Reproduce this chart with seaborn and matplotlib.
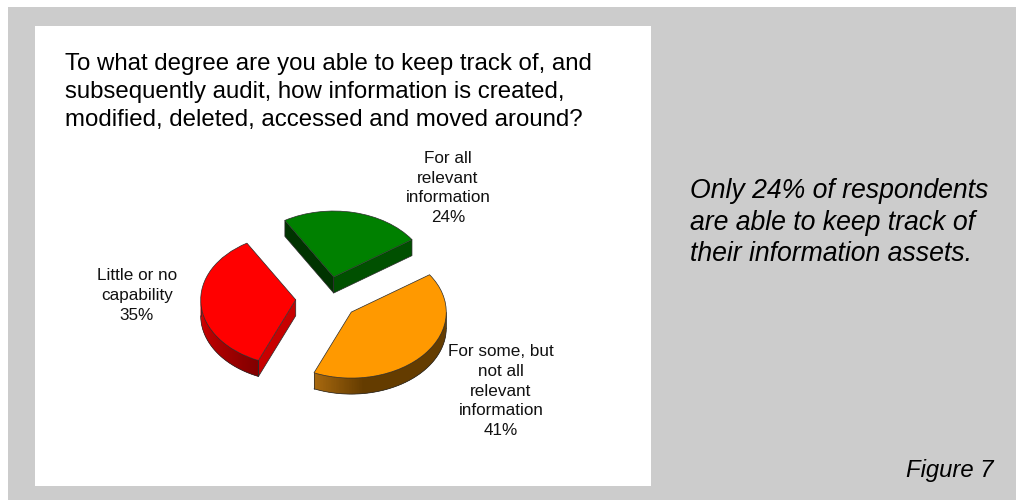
import numpy as np
import matplotlib
matplotlib.use("Agg")
import matplotlib.pyplot as plt
from matplotlib.patches import Rectangle
from matplotlib.colors import to_rgb
import seaborn as sns

# Survey responses, in drawing order counter-clockwise from the start angle
answers = ["For all\nrelevant\ninformation", "Little or no\ncapability",
           "For some, but\nnot all\nrelevant\ninformation"]
shares = [24, 35, 41]
title_text = ("To what degree are you able to keep track of, and\n"
              "subsequently audit, how information is created,\n"
              "modified, deleted, accessed and moved around?")
comment_text = ("Only 24% of respondents\nare able to keep track of\n"
                "their information assets.")
figure_label = "Figure 7"

sns.set_theme(style="white")
plt.rcParams["font.family"] = ["Liberation Sans", "DejaVu Sans"]

W, H = 1016, 500
top_colors = sns.color_palette(["#008000", "#ff0000", "#ff9900"])
cut_near = ["#005000", "#c80000", "#a56a10"]   # face cut along the first radius
cut_far = ["#003300", "#c80000", "#a56a10"]    # face cut along the second radius
rim_from = ["#004d00", "#dc0000", "#a8690f"]
rim_to = ["#004d00", "#7c0000", "#643c00"]
rim_span = [60, 70, 30]                        # degrees over which the rim shades
edge = "#2a2a2a"

fig = plt.figure(figsize=(W / 100, H / 100), dpi=100, facecolor="white")
bg = fig.add_axes([0, 0, 1, 1])
bg.set_xlim(0, W)
bg.set_ylim(H, 0)
bg.axis("off")
bg.add_patch(Rectangle((8, 7), W - 8, H - 7, fc="#cccccc", ec="none"))
bg.add_patch(Rectangle((35, 26), 616, 460, fc="white", ec="none"))

bg.text(65, 92, title_text, fontsize=17.3, color="black", va="center",
        ha="left", linespacing=1.33)
bg.text(690, 222.5, comment_text, fontsize=19.2, style="italic", color="black",
        va="center", ha="left", linespacing=1.27)
bg.text(993, 471, figure_label, fontsize=17.2, style="italic", color="black",
        va="center", ha="right")

label_pos = [(448, 188), (137, 295.5), (501, 391)]
for answer, share, (px, py) in zip(answers, shares, label_pos):
    bg.text(px, py, f"{answer}\n{share}%", fontsize=12.3, color="#111111",
            ha="center", va="center", linespacing=1.4)

# Pie axes: one data unit is 95 px across and 66 px high, which gives the tilt
cx, cy, rx, ry = 327.0, 298.3, 95, 66
span = 2.0
ax = fig.add_axes([(cx - span * rx) / W, 1 - (cy + span * ry) / H,
                   2 * span * rx / W, 2 * span * ry / H])
ax.patch.set_alpha(0)
wedges, _ = ax.pie(shares, explode=[0.33] * 3, startangle=34.5, colors=top_colors,
                   radius=1, counterclock=True,
                   wedgeprops=dict(edgecolor=edge, linewidth=0.5, zorder=5))
ax.set_aspect("auto")
ax.set_xlim(-span, span)
ax.set_ylim(-span, span)
ax.axis("off")

depth = 16 / ry


def extrude(xs, ys, color):
    """Fill the side face hanging below a polyline on the top surface."""
    px = np.r_[xs, xs[::-1]]
    py = np.r_[ys, ys[::-1] - depth]
    ax.fill(px, py, fc=color, ec="none", lw=0, zorder=2)


for i, w in enumerate(wedges):
    c = np.array(w.center)
    t1, t2 = w.theta1, w.theta2
    # Radial cut faces that turn towards the viewer
    for theta, col in ((t1, cut_near[i]), (t2, cut_far[i])):
        a = np.radians(theta)
        facing = np.cos(a) > 0 if theta == t1 else np.cos(a) < 0
        if facing:
            extrude(np.array([c[0], c[0] + np.cos(a)]),
                    np.array([c[1], c[1] + np.sin(a)]), col)
            ax.plot([c[0], c[0], c[0] + np.cos(a), c[0] + np.cos(a)],
                    [c[1], c[1] - depth, c[1] + np.sin(a) - depth, c[1] + np.sin(a)],
                    color=edge, lw=0.5, zorder=3)
    # Outer rim on the near half, shaded strip by strip; each strip runs a
    # little under the next so no seams show
    lo, hi = max(t1, 180), min(t2, 360)
    if hi > lo:
        steps = np.linspace(lo, hi, int(hi - lo) + 2)
        c0, c1 = np.array(to_rgb(rim_from[i])), np.array(to_rgb(rim_to[i]))
        for a0, a1 in zip(steps[:-1], steps[1:]):
            f = min((a0 - lo) / rim_span[i], 1.0)
            arc = np.radians(np.linspace(a0, min(a1 + 1.5, hi), 5))
            extrude(c[0] + np.cos(arc), c[1] + np.sin(arc), tuple(c0 + (c1 - c0) * f))
        arc = np.radians(np.linspace(lo, hi, 120))
        ax.plot(c[0] + np.cos(arc), c[1] + np.sin(arc) - depth,
                color=edge, lw=0.5, zorder=3)
        for a in np.radians([lo, hi]):
            ax.plot([c[0] + np.cos(a)] * 2,
                    [c[1] + np.sin(a), c[1] + np.sin(a) - depth],
                    color=edge, lw=0.5, zorder=3)

fig.savefig("out.png", dpi=100, facecolor="white")
